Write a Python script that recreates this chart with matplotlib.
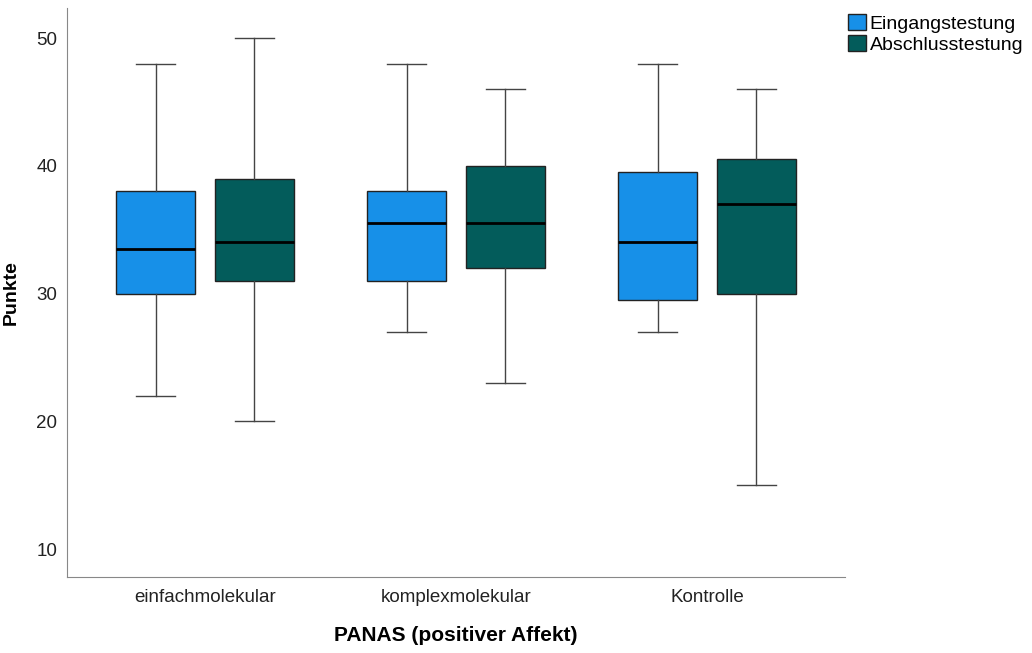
import numpy as np
import matplotlib.pyplot as plt
from matplotlib.patches import Patch

plt.rcParams['font.family'] = ['Liberation Sans', 'DejaVu Sans']

# Daten: [whislo, q1, med, q3, whishi]
gruppen = ['einfachmolekular', 'komplexmolekular', 'Kontrolle']
serien = ['Eingangstestung', 'Abschlusstestung']
eingang = [[22, 30, 33.5, 38, 48],
           [27, 31, 35.5, 38, 48],
           [27, 29.5, 34, 39.5, 48]]
abschluss = [[20, 31, 34, 39, 50],
             [23, 32, 35.5, 40, 46],
             [15, 30, 37, 40.5, 46]]
farben = ['#1790e8', '#035c5b']

def stats(werte):
    out = []
    for w in werte:
        out.append({'whislo': w[0], 'q1': w[1], 'med': w[2], 'q3': w[3], 'whishi': w[4], 'fliers': []})
    return out

fig = plt.figure(figsize=(10.32, 6.53), dpi=100)
ax = fig.add_axes([0.0649, 0.1164, 0.7539, 0.8713])

x = np.arange(len(gruppen))
off = 0.197
breite = 0.315
for i, (daten, farbe) in enumerate(zip([eingang, abschluss], farben)):
    pos = x + (-off if i == 0 else off)
    ax.bxp(stats(daten), positions=pos, widths=breite, patch_artist=True,
           showfliers=False,
           boxprops=dict(facecolor=farbe, edgecolor='#222222', linewidth=1),
           medianprops=dict(color='black', linewidth=2),
           whiskerprops=dict(color='#444444', linewidth=1),
           capprops=dict(color='#444444', linewidth=1),
           capwidths=breite / 2)

ax.set_xlim(-0.55, 2.55)
ax.set_ylim(7.81, 52.35)
ax.set_xticks(x)
ax.set_xticklabels(gruppen, fontsize=13.5, color='#222222')
ax.set_yticks([10, 20, 30, 40, 50])
ax.tick_params(axis='y', labelsize=13.5, labelcolor='#222222', length=0, pad=7)
ax.tick_params(axis='x', length=0, pad=9)
for s in ['top', 'right']:
    ax.spines[s].set_visible(False)
for s in ['left', 'bottom']:
    ax.spines[s].set_color('#888888')
ax.set_ylabel('Punkte', fontsize=14, fontweight='bold', labelpad=12)
ax.set_xlabel('PANAS (positiver Affekt)', fontsize=15, fontweight='bold', labelpad=14)

handles = [Patch(facecolor=f, edgecolor='#222222', label=s) for f, s in zip(farben, serien)]
fig.legend(handles=handles, loc='upper left', bbox_to_anchor=(0.8145, 0.991), frameon=False,
           fontsize=14, handlelength=0.9, handleheight=0.95, handletextpad=0.2, labelspacing=0.1,
           borderaxespad=0)

plt.savefig('out.png')
